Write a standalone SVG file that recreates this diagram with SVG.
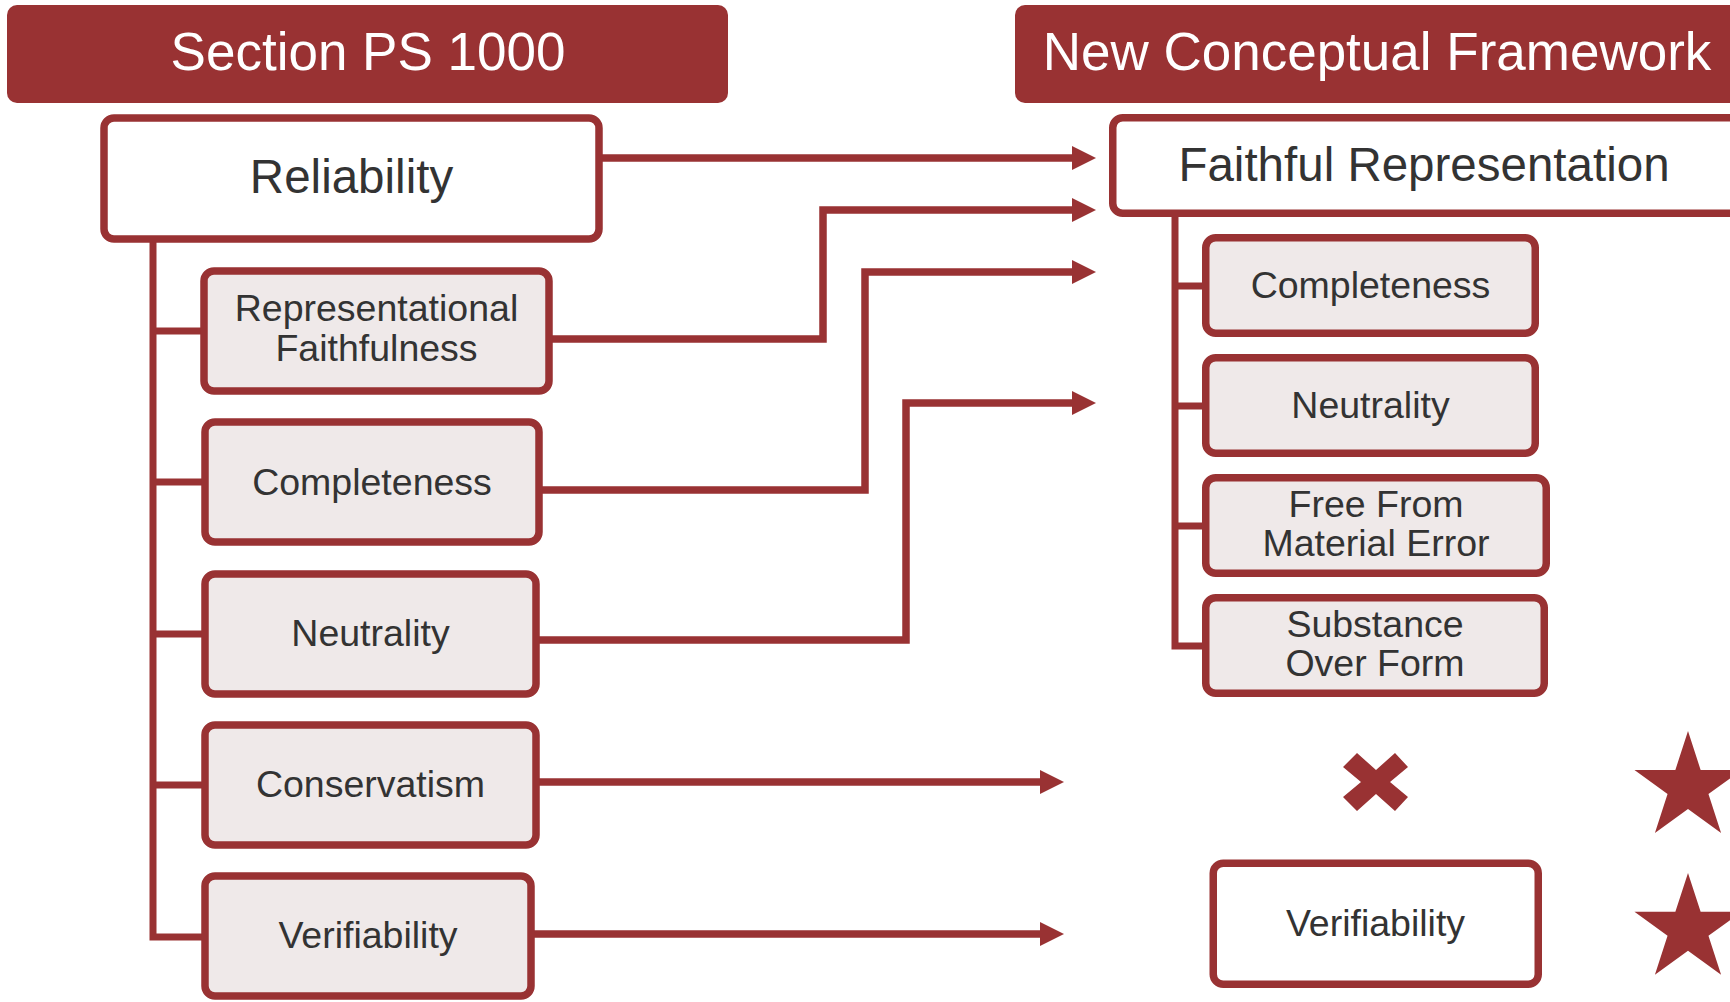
<svg xmlns="http://www.w3.org/2000/svg" xmlns:xlink="http://www.w3.org/1999/xlink" width="1730" height="1002" viewBox="0 0 1730 1002">
<style>
  .hdr { fill: #993233; }
  .hdrtxt { font-family: "Liberation Sans", Arial, sans-serif; font-size: 53px; fill: #ffffff; text-anchor: middle; }
  .main { fill: #ffffff; stroke: #993233; stroke-width: 7.5; }
  .sub { fill: #EFE9E9; stroke: #993233; stroke-width: 7.5; }
  .big { font-family: "Liberation Sans", Arial, sans-serif; font-size: 47.5px; fill: #333333; text-anchor: middle; }
  .lbl { font-family: "Liberation Sans", Arial, sans-serif; font-size: 37.5px; fill: #333333; text-anchor: middle; }
  .conn { fill: none; stroke: #993233; stroke-width: 7.5; stroke-linejoin: miter; }
  .tree { fill: none; stroke: #993233; stroke-width: 7; stroke-linejoin: miter; }
  .mark { fill: #993233; }
</style>
<defs>
  <marker id="arr" markerUnits="userSpaceOnUse" markerWidth="24" markerHeight="24" viewBox="0 0 23 23" refX="0" refY="11.5" orient="auto">
    <path d="M0,0 L23,11.5 L0,23 Z" fill="#993233"/>
  </marker>
  <path id="star" d="M0,-56.3 L12.64,-17.39 L53.54,-17.4 L20.45,6.64 L33.09,45.55 L0,21.5 L-33.09,45.55 L-20.45,6.64 L-53.54,-17.4 L-12.64,-17.39 Z"/>
</defs>

<g id="header-left">
  <rect class="hdr" x="7" y="5" width="721" height="98" rx="10"/>
  <text class="hdrtxt" x="368" y="70">Section PS 1000</text>
</g>
<g id="header-right">
  <rect class="hdr" x="1015" y="5" width="760" height="98" rx="10"/>
  <text class="hdrtxt" x="1377" y="70">New Conceptual Framework</text>
</g>

<g id="connectors">
  <path class="tree" d="M153,240 V937 H205"/>
  <path class="tree" d="M153,331 H205"/>
  <path class="tree" d="M153,482 H205"/>
  <path class="tree" d="M153,634 H205"/>
  <path class="tree" d="M153,785 H205"/>
  <path class="tree" d="M1175,214 V646 H1206"/>
  <path class="tree" d="M1175,286 H1206"/>
  <path class="tree" d="M1175,406 H1206"/>
  <path class="tree" d="M1175,526 H1206"/>
  <path class="conn" d="M600,158 H1072" marker-end="url(#arr)"/>
  <path class="conn" d="M550,339 H823 V210 H1072" marker-end="url(#arr)"/>
  <path class="conn" d="M540,490 H865 V272 H1072" marker-end="url(#arr)"/>
  <path class="conn" d="M537,640 H906 V403 H1072" marker-end="url(#arr)"/>
  <path class="conn" d="M537,782 H1040" marker-end="url(#arr)"/>
  <path class="conn" d="M532,934 H1040" marker-end="url(#arr)"/>
</g>

<g id="reliability">
  <rect class="main" x="104" y="118" width="495" height="121" rx="10"/>
  <text class="big" x="351.5" y="193">Reliability</text>
</g>
<g id="rep-faithfulness">
  <rect class="sub" x="204" y="271" width="345" height="120" rx="10"/>
  <text class="lbl" x="376.5" y="321">Representational</text>
  <text class="lbl" x="376.5" y="361">Faithfulness</text>
</g>
<g id="completeness-left">
  <rect class="sub" x="205" y="422" width="334" height="120" rx="10"/>
  <text class="lbl" x="372" y="494.5">Completeness</text>
</g>
<g id="neutrality-left">
  <rect class="sub" x="205" y="574" width="331" height="120" rx="10"/>
  <text class="lbl" x="370.5" y="646">Neutrality</text>
</g>
<g id="conservatism">
  <rect class="sub" x="205" y="725" width="331" height="120" rx="10"/>
  <text class="lbl" x="370.5" y="797">Conservatism</text>
</g>
<g id="verifiability-left">
  <rect class="sub" x="205" y="876" width="326" height="120" rx="10"/>
  <text class="lbl" x="368" y="948">Verifiability</text>
</g>

<g id="faithful-representation">
  <rect class="main" x="1112.75" y="117.75" width="700" height="95.5" rx="10"/>
  <text class="big" x="1424" y="181">Faithful Representation</text>
</g>
<g id="completeness-right">
  <rect class="sub" x="1205.75" y="237.75" width="329.5" height="95.5" rx="10"/>
  <text class="lbl" x="1370.5" y="298">Completeness</text>
</g>
<g id="neutrality-right">
  <rect class="sub" x="1205.75" y="357.75" width="329.5" height="95.5" rx="10"/>
  <text class="lbl" x="1370.5" y="418">Neutrality</text>
</g>
<g id="free-from-material-error">
  <rect class="sub" x="1205.75" y="477.75" width="340.5" height="95.5" rx="10"/>
  <text class="lbl" x="1376" y="517">Free From</text>
  <text class="lbl" x="1376" y="556">Material Error</text>
</g>
<g id="substance-over-form">
  <rect class="sub" x="1205.75" y="597.75" width="338.5" height="95.5" rx="10"/>
  <text class="lbl" x="1375" y="637">Substance</text>
  <text class="lbl" x="1375" y="676">Over Form</text>
</g>
<g id="verifiability-right">
  <rect class="main" x="1213.25" y="863.25" width="325" height="121" rx="10"/>
  <text class="lbl" x="1375.5" y="935.5">Verifiability</text>
</g>

<g id="cross-mark">
  <path class="mark" d="M1343,767 L1357,753 L1376,770 L1395,753 L1408,767 L1390,782 L1408,797 L1395,811 L1376,794 L1357,811 L1343,797 L1361,782 Z"/>
</g>
<g id="star-1">
  <use xlink:href="#star" href="#star" class="mark" transform="translate(1688,787.4)"/>
</g>
<g id="star-2">
  <use xlink:href="#star" href="#star" class="mark" transform="translate(1688,929.2)"/>
</g>
</svg>
